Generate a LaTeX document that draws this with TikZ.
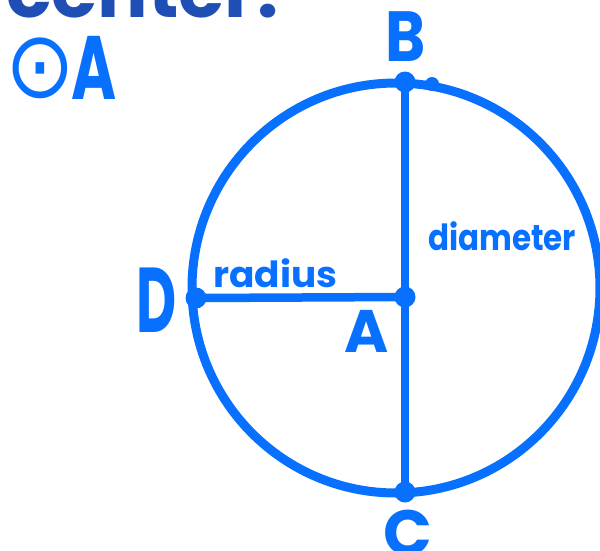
\documentclass[tikz,border=0pt]{standalone}
\usepackage{fontspec}
\usepackage{graphicx}
\newfontfamily\poppins{Poppins}
\newfontfamily\djv{DejaVu Sans}
\definecolor{handblue}{RGB}{8,112,255}
\definecolor{titleblue}{RGB}{31,78,181}
\begin{document}
\begin{tikzpicture}[x=1pt,y=-1pt,
  lbl/.style={text=handblue, inner sep=0pt, font=\poppins\bfseries},
  stroke/.style={draw=handblue, line width=8.5pt, line cap=round},
  dot/.style={circle, fill=handblue, inner sep=0pt, minimum size=21pt}]
\useasboundingbox (0,0) rectangle (600,550);
\begin{scope}
\clip (0,0) rectangle (600,550);
\node[anchor=base west, text=titleblue, inner sep=0pt,
      font=\poppins\bfseries\fontsize{75}{75}\selectfont] (ttl) at (6,17) {center:};
\draw[stroke, line width=9pt] (396,288) ellipse [x radius=204pt, y radius=205pt];
\end{scope}
% points
\node[dot] (B) at (405,82) {};
\node[dot] (A) at (405,297) {};
\node[dot] (C) at (405,492) {};
\node[dot] (D) at (196,298) {};
\node[dot, minimum size=14pt] (E) at (432,84) {};
% diameter and radius
\draw[stroke] (B.center) -- (C.center);
\draw[stroke] (D.center) -- (A.center);
% labels
\node[lbl, font=\poppins\bfseries\fontsize{71}{71}\selectfont] (lB) at (406,37) {\scalebox{0.86}[1]{B}};
\node[lbl, font=\poppins\bfseries\fontsize{92}{92}\selectfont] (lD) at (157,300) {\scalebox{0.6}[1]{D}};
\node[lbl, font=\poppins\bfseries\fontsize{60}{60}\selectfont] (lA) at (367,331) {A};
\node[lbl, font=\poppins\bfseries\fontsize{64}{64}\selectfont, anchor=north] (lC) at (408,510) {C};
\node[lbl, font=\poppins\bfseries\fontsize{36}{36}\selectfont, anchor=base west] (lrad) at (213,287) {\scalebox{1.04}[1]{radius}};
\node[lbl, font=\poppins\bfseries\fontsize{36}{36}\selectfont, anchor=base west] (ldia) at (428,250) {\scalebox{0.86}[1]{diameter}};
\node[lbl, font=\djv\fontsize{64}{64}\selectfont] (lO) at (40,68) {\scalebox{1.3}[1.45]{⊙}};
\node[lbl, font=\poppins\bfseries\fontsize{90}{90}\selectfont] (lOA) at (94,68) {\scalebox{0.68}[1]{A}};
\end{tikzpicture}
\end{document}
